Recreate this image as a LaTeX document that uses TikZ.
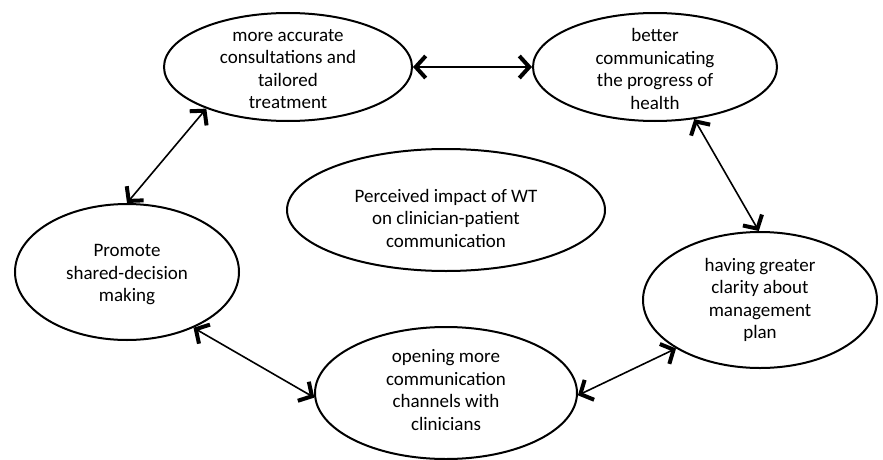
\documentclass[tikz,border=0pt]{standalone}
\usepackage{fontspec}
\setmainfont{Carlito}
\usetikzlibrary{arrows.meta,shapes.geometric}
\begin{document}
\begin{tikzpicture}[x=1pt,y=-1pt,
  bubble/.style={draw=black,line width=2pt,ellipse,inner sep=0pt},
  label/.style={align=center,inner sep=0pt,font=\fontsize{19}{22.5}\selectfont},
  tip/.style={},
  link/.style={line width=1.6pt,{Straight Barb[length=10pt,width=22pt,line width=4pt]}-{Straight Barb[length=10pt,width=22pt,line width=4pt]}}]
\useasboundingbox (0,0) rectangle (883,460);
\node[bubble,minimum width=248pt,minimum height=108pt] (A) at (288,67) {};
\node[label] (At) at (288,69) {more accurate\\consultations and\\tailored\\treatment};
\node[bubble,minimum width=244pt,minimum height=108pt] (B) at (655,67) {};
\node[label] (Bt) at (655,69) {better\\communicating\\the progress of\\health};
\node[bubble,minimum width=318pt,minimum height=122pt] (C) at (446,210) {};
\node[label] (Ct) at (446,218) {Perceived impact of WT\\on clinician-patient\\communication};
\node[bubble,minimum width=224pt,minimum height=136pt] (D) at (127,272) {};
\node[label] (Dt) at (127,275) {Promote\\shared-decision\\making};
\node[bubble,minimum width=234pt,minimum height=136pt] (E) at (760,300) {};
\node[label] (Et) at (760,300) {having greater\\clarity about\\management\\plan};
\node[bubble,minimum width=262pt,minimum height=132pt] (F) at (446,393) {};
\node[label] (Ft) at (446,390) {opening more\\communication\\channels with\\clinicians};
\draw[link] (A.east) -- (A.east -| B.west);
\draw[link] (B.-53) -- (E.91);
\draw[link] (A.207) -- (D.north);
\draw[link] (D.-40) -- (F.182);
\draw[link] (F.-1) -- (E.-150);
\end{tikzpicture}
\end{document}
